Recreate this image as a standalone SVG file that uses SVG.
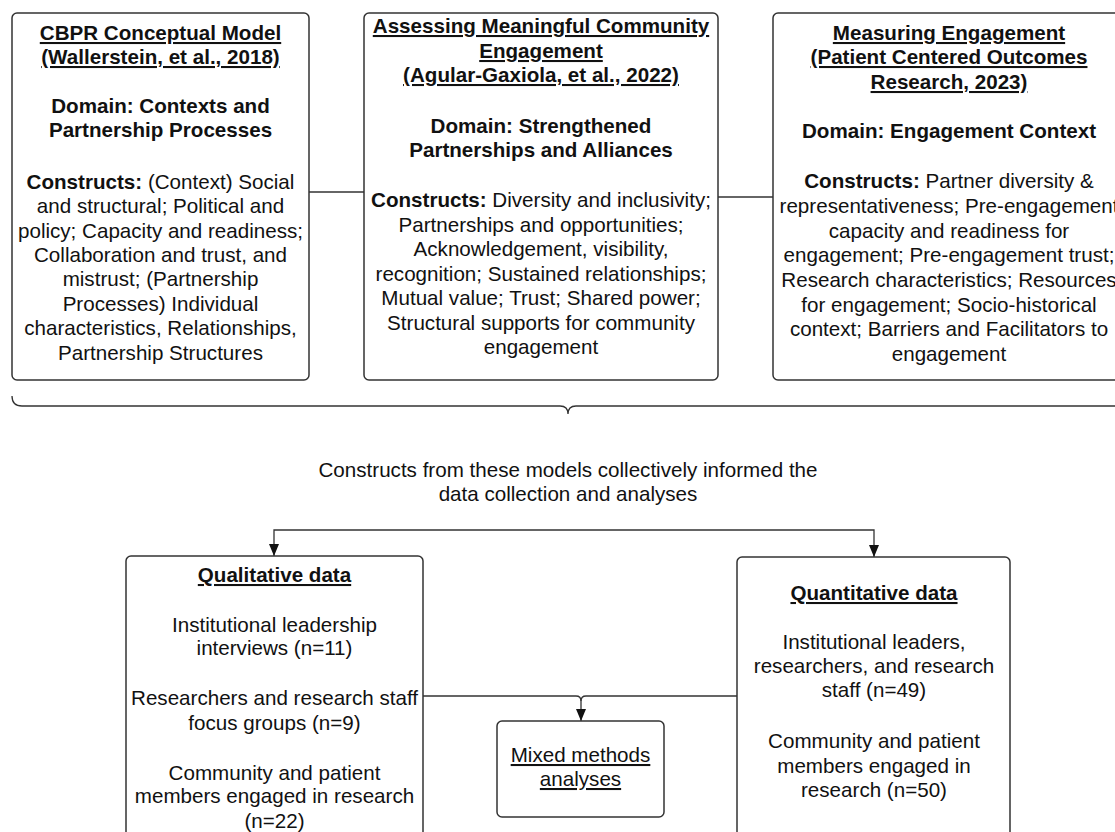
<svg xmlns="http://www.w3.org/2000/svg" width="1115" height="832" viewBox="0 0 1115 832">
<defs>
<style>
text{font-family:"Liberation Sans",Arial,sans-serif;font-size:20.6px;fill:#111;text-anchor:middle}
.b{font-weight:bold}
.u{text-decoration:underline}
.box{fill:#fff;stroke:#333;stroke-width:1.5}
.ln{fill:none;stroke:#333;stroke-width:1.3}
</style>
<marker id="ah" viewBox="0 0 12 10" refX="12" refY="5" markerWidth="12" markerHeight="10" markerUnits="userSpaceOnUse" orient="auto"><path d="M0,0 L12,5 L0,10 z" fill="#111"/></marker>
</defs>
<rect width="1115" height="832" fill="#fff"/>
<g id="connectors">
<line class="ln" x1="309" y1="192" x2="364" y2="192"/>
<line class="ln" x1="718" y1="197" x2="773" y2="197"/>
<path class="ln" d="M12,396 Q12,406 22,406 L560,406 Q568,406 568,414 Q568,406 576,406 L1116,406" stroke="#444"/>
<path class="ln" d="M574,530 H274 V556" marker-end="url(#ah)"/>
<path class="ln" d="M574,530 H874 V557" marker-end="url(#ah)"/>
<path class="ln" d="M423,696 H576 Q581,696 581,701 V721" marker-end="url(#ah)"/>
<path class="ln" d="M737,696 H586 Q581,696 581,701"/>
</g>
<g id="cbpr">
<rect class="box" x="12" y="13" width="297" height="367" rx="5"/>
<text class="b u" x="160.5" y="40">CBPR Conceptual Model</text>
<text class="b u" x="160.5" y="64">(Wallerstein, et al., 2018)</text>
<text class="b" x="160.5" y="113">Domain: Contexts and</text>
<text class="b" x="160.5" y="137">Partnership Processes</text>
<text x="160.5" y="189"><tspan class="b">Constructs:</tspan> (Context) Social</text>
<text x="160.5" y="213">and structural; Political and</text>
<text x="160.5" y="238">policy; Capacity and readiness;</text>
<text x="160.5" y="262">Collaboration and trust, and</text>
<text x="160.5" y="286">mistrust; (Partnership</text>
<text x="160.5" y="311">Processes) Individual</text>
<text x="160.5" y="335">characteristics, Relationships,</text>
<text x="160.5" y="360">Partnership Structures</text>
</g>
<g id="assessing">
<rect class="box" x="364" y="13" width="354" height="367" rx="5"/>
<text class="b u" x="541" y="33">Assessing Meaningful Community</text>
<text class="b u" x="541" y="58">Engagement</text>
<text class="b u" x="541" y="82">(Agular-Gaxiola, et al., 2022)</text>
<text class="b" x="541" y="133">Domain: Strengthened</text>
<text class="b" x="541" y="157">Partnerships and Alliances</text>
<text x="541" y="207"><tspan class="b">Constructs:</tspan> Diversity and inclusivity;</text>
<text x="541" y="232">Partnerships and opportunities;</text>
<text x="541" y="256">Acknowledgement, visibility,</text>
<text x="541" y="281">recognition; Sustained relationships;</text>
<text x="541" y="305">Mutual value; Trust; Shared power;</text>
<text x="541" y="330">Structural supports for community</text>
<text x="541" y="354">engagement</text>
</g>
<g id="measuring">
<rect class="box" x="773" y="13" width="352" height="367" rx="5"/>
<text class="b u" x="949" y="40">Measuring Engagement</text>
<text class="b u" x="949" y="64">(Patient Centered Outcomes</text>
<text class="b u" x="949" y="89">Research, 2023)</text>
<text class="b" x="949" y="138">Domain: Engagement Context</text>
<text x="949" y="188"><tspan class="b">Constructs:</tspan> Partner diversity &amp;</text>
<text x="949" y="213">representativeness; Pre-engagement</text>
<text x="949" y="238">capacity and readiness for</text>
<text x="949" y="262">engagement; Pre-engagement trust;</text>
<text x="949" y="287">Research characteristics; Resources</text>
<text x="949" y="312">for engagement; Socio-historical</text>
<text x="949" y="336">context; Barriers and Facilitators to</text>
<text x="949" y="361">engagement</text>
</g>
<g id="caption">
<text x="568" y="477">Constructs from these models collectively informed the</text>
<text x="568" y="501">data collection and analyses</text>
</g>
<g id="qualitative">
<rect class="box" x="126" y="556" width="297" height="300" rx="5"/>
<text class="b u" x="274.5" y="582">Qualitative data</text>
<text x="274.5" y="632">Institutional leadership</text>
<text x="274.5" y="655">interviews (n=11)</text>
<text x="274.5" y="705">Researchers and research staff</text>
<text x="274.5" y="730">focus groups (n=9)</text>
<text x="274.5" y="780">Community and patient</text>
<text x="274.5" y="803">members engaged in research</text>
<text x="274.5" y="828">(n=22)</text>
</g>
<g id="quantitative">
<rect class="box" x="737" y="557" width="273" height="300" rx="5"/>
<text class="b u" x="874" y="600">Quantitative data</text>
<text x="874" y="649">Institutional leaders,</text>
<text x="874" y="673">researchers, and research</text>
<text x="874" y="697">staff (n=49)</text>
<text x="874" y="748">Community and patient</text>
<text x="874" y="773">members engaged in</text>
<text x="874" y="797">research (n=50)</text>
</g>
<g id="mixed">
<rect class="box" x="497" y="721" width="167" height="96" rx="5"/>
<text class="u" x="580.5" y="762">Mixed methods</text>
<text class="u" x="580.5" y="786">analyses</text>
</g>
</svg>
